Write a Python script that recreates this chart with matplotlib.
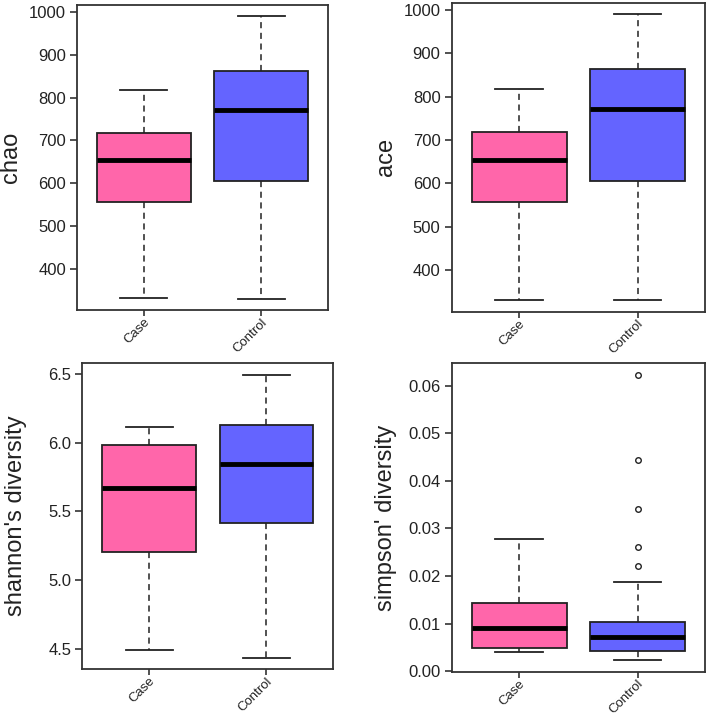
import matplotlib
matplotlib.use("Agg")
import matplotlib.pyplot as plt

plt.rcParams['font.family'] = ['Liberation Sans', 'DejaVu Sans']

groups = ["Case", "Control"]
colors = ["#FF66AA", "#6464FF"]

# stats per metric: [whislo, q1, med, q3, whishi] for Case, Control
chao_case = [331, 557, 655, 718, 818]
chao_ctrl = [330, 604, 771, 863, 990]
ace_case = [331, 557, 655, 719, 818]
ace_ctrl = [330, 605, 771, 863, 990]
shannon_case = [4.487, 5.206, 5.674, 5.983, 6.116]
shannon_ctrl = [4.434, 5.414, 5.844, 6.131, 6.497]
simpson_case = [0.0041, 0.0048, 0.0090, 0.0143, 0.0277]
simpson_ctrl = [0.0023, 0.0042, 0.0072, 0.0103, 0.0187]
simpson_ctrl_outliers = [0.0623, 0.0443, 0.0341, 0.0262, 0.0221]

FW, FH = 709, 717
panels = [
    ("chao", chao_case, chao_ctrl, [], [400, 500, 600, 700, 800, 900, 1000], None,
     (77, 328.3, 5, 310)),
    ("ace", ace_case, ace_ctrl, [], [400, 500, 600, 700, 800, 900, 1000], None,
     (451.7, 705, 3, 311.7)),
    ("shannon's diversity", shannon_case, shannon_ctrl, [], [4.5, 5.0, 5.5, 6.0, 6.5], "%.1f",
     (82.3, 333.3, 363.3, 669)),
    ("simpson' diversity", simpson_case, simpson_ctrl, simpson_ctrl_outliers,
     [0.00, 0.01, 0.02, 0.03, 0.04, 0.05, 0.06], "%.2f",
     (451.7, 705, 363.3, 671.7)),
]

fig = plt.figure(figsize=(FW / 100, FH / 100), dpi=100)
edge = "#222222"

for label, case, ctrl, outl, yticks, fmt, (l, r, t, b) in panels:
    ax = fig.add_axes([l / FW, 1 - b / FH, (r - l) / FW, (b - t) / FH])
    stats = []
    for name, s, fl in [(groups[0], case, []), (groups[1], ctrl, outl)]:
        stats.append(dict(label=name, whislo=s[0], q1=s[1], med=s[2], q3=s[3],
                          whishi=s[4], fliers=fl))
    bp = ax.bxp(stats, positions=[1, 2], widths=0.8, patch_artist=True,
                showfliers=True,
                boxprops=dict(edgecolor=edge, linewidth=1.3),
                medianprops=dict(color="black", linewidth=3.5, solid_capstyle="butt"),
                whiskerprops=dict(color=edge, linewidth=1.1, linestyle=(0, (4, 3))),
                capprops=dict(color=edge, linewidth=1.3),
                capwidths=0.4,
                flierprops=dict(marker="o", markersize=4, markerfacecolor="white",
                                markeredgecolor=edge, markeredgewidth=1.0))
    for patch, c in zip(bp["boxes"], colors):
        patch.set_facecolor(c)
    # data range with 4% extension (R default)
    allv = list(case) + list(ctrl) + list(outl)
    lo, hi = min(allv), max(allv)
    pad = (hi - lo) * 0.04
    ax.set_ylim(lo - pad, hi + pad)
    ax.set_xlim(0.43, 2.57)
    ax.set_yticks(yticks)
    if fmt:
        ax.set_yticklabels([fmt % v for v in yticks])
    ax.set_xticks([1, 2])
    ax.set_xticklabels(groups, rotation=45, ha="right", rotation_mode="anchor",
                       fontsize=9.5, color="#222222")
    ax.tick_params(axis="y", labelsize=12, length=5, width=1.1, color=edge,
                   labelcolor="#222222", pad=3)
    ax.tick_params(axis="x", length=4, width=1.1, color=edge, pad=0.5)
    for sp in ax.spines.values():
        sp.set_color("#333333")
        sp.set_linewidth(1.3)
    ax.set_ylabel(label, fontsize=17, color="#222222")
    ax.yaxis.set_label_coords(-55 / (r - l), 0.5)

fig.savefig("out.png", dpi=100)
